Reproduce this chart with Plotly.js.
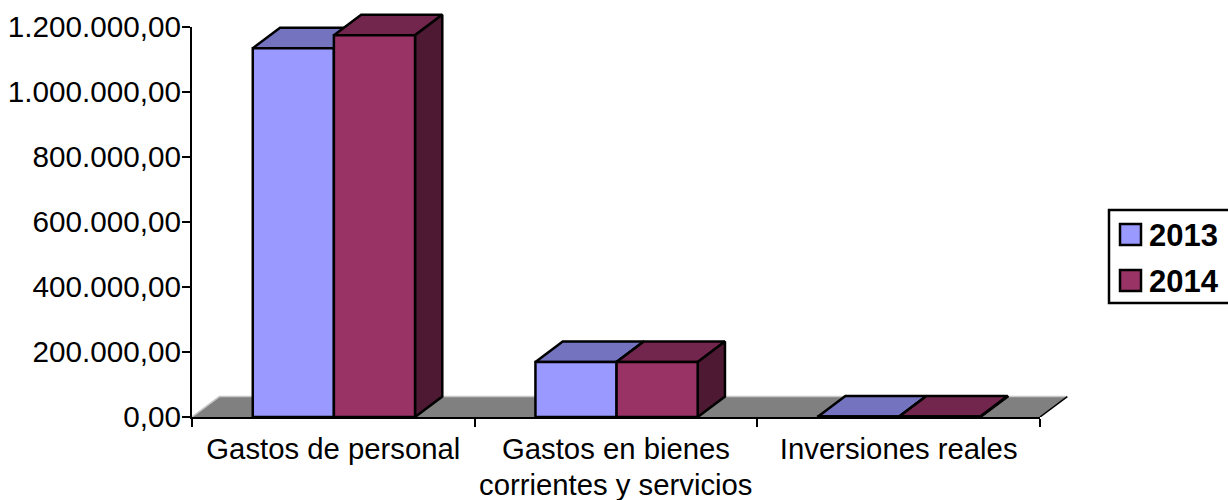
<!DOCTYPE html>
<html>
<head>
<meta charset="utf-8">
<script src="https://cdn.plot.ly/plotly-3.0.1.min.js"></script>
<style>html,body{margin:0;padding:0;background:#fff}#c{width:1228px;height:500px}</style>
</head>
<body>
<div id="c"></div>
<script>
const categories = ["Gastos de personal", "Gastos en bienes", "Inversiones reales"];
const categorySecondLines = ["", "corrientes y servicios", ""];
const seriesNames = ["2013", "2014"];
const values2013 = [1135000, 169000, 1500];
const values2014 = [1175000, 169000, 1500];
const yTickValues = [0, 200000, 400000, 600000, 800000, 1000000, 1200000];
const yTickLabels = ["0,00", "200.000,00", "400.000,00", "600.000,00", "800.000,00", "1.000.000,00", "1.200.000,00"];

const frontColors = ["#9999FF", "#993366"];
const topColors = ["#7373BF", "#73264D"];
const sideColors = ["#4D4D80", "#4D1933"];

const W = 1228, H = 500;
// visible axes box
const L = 192, R = 1040, T = 27, B = 417;
// larger drawing box that also holds the receding faces
const OR = 1100, OT = 5;
const fontFam = '"Liberation Sans", Arial, sans-serif';
const barW = 0.287, barShift = 0.002, edgeW = 2.5;
const depthX = 0.0965, depthY = 63000;
const xRange = [-0.5, 2.5], yRange = [0, 1200000];
const outerX = [-0.5, -0.5 + 3 * (OR - L) / (R - L)];
const outerY = [0, 1200000 * (B - OT) / (B - T)];
const px = v => (v - L) / (OR - L);
const py = v => (B - v) / (B - OT);

function poly(xs, ys, fill, lineColor, lineW) {
  return {type: "scatter", mode: "lines", x: xs, y: ys, fill: "toself", fillcolor: fill,
    line: {color: lineColor, width: lineW, simplify: false}, hoverinfo: "skip",
    showlegend: false, xaxis: "x", yaxis: "y"};
}
function seg(xs, ys, color, w) {
  return {type: "scatter", mode: "lines", x: xs, y: ys, line: {color: color, width: w},
    hoverinfo: "skip", showlegend: false, xaxis: "x", yaxis: "y"};
}

const traces = [];
// floor
traces.push(poly([-0.5, -0.5 + depthX, 2.5 + depthX, 2.5, -0.5], [0, depthY, depthY, 0, 0], "#808080", "rgba(0,0,0,0)", 0));
traces.push(seg([-0.5, -0.5 + depthX, 2.5 + depthX], [0, depthY, depthY], "#C8C8C8", 1.5));
traces.push(seg([2.5 + depthX, 2.5], [depthY, 0], "#000000", 1.5));

// top and side faces, built from the values
[values2013, values2014].forEach((vals, s) => {
  vals.forEach((v, i) => {
    const x0 = i + barShift - barW + s * barW, x1 = x0 + barW;
    traces.push(poly([x0, x0 + depthX, x1 + depthX, x1, x0], [v, v + depthY, v + depthY, v, v], topColors[s], "#000", edgeW));
    traces.push(poly([x1, x1 + depthX, x1 + depthX, x1, x1], [0, depthY, v + depthY, v, 0], sideColors[s], "#000", edgeW));
  });
});

// front faces: real bars on an overlaid subplot with identical scales
[values2013, values2014].forEach((vals, s) => {
  traces.push({type: "bar", name: seriesNames[s], x: [0, 1, 2], y: vals, width: barW,
    offset: barShift - barW + s * barW, marker: {color: frontColors[s], line: {color: "#000", width: edgeW}},
    hoverinfo: "skip", showlegend: false, xaxis: "x2", yaxis: "y2"});
});
// the visible axes
traces.push({type: "scatter", mode: "lines", x: [], y: [], showlegend: false, hoverinfo: "skip", xaxis: "x3", yaxis: "y3"});

const axisFont = {family: fontFam, size: 29.3, color: "#000"};
const yAxisFont = {family: fontFam, size: 29.7, color: "#000"};
const shapes = [
  {type: "rect", xref: "paper", yref: "paper", x0: px(1109), x1: px(1240), y0: py(210), y1: py(303),
   line: {color: "#000", width: 2.5}, fillcolor: "#fff"},
  {type: "rect", xref: "paper", yref: "paper", x0: px(1120), x1: px(1141), y0: py(224), y1: py(245),
   line: {color: "#000", width: 2.5}, fillcolor: frontColors[0]},
  {type: "rect", xref: "paper", yref: "paper", x0: px(1120), x1: px(1141), y0: py(270), y1: py(291),
   line: {color: "#000", width: 2.5}, fillcolor: frontColors[1]}
];
const annotations = seriesNames.map((n, i) => ({
  text: "<b>" + n + "</b>", xref: "paper", yref: "paper", x: px(1147), y: py(235 + i * 46.5),
  xanchor: "left", yanchor: "middle", showarrow: false,
  font: {family: fontFam, size: 31, color: "#000"}
}));
categorySecondLines.forEach((t, i) => {
  if (t) annotations.push({text: t, xref: "x3", yref: "paper", x: i, y: py(484.5),
    xanchor: "center", yanchor: "middle", showarrow: false, font: axisFont});
});

const hidden = {visible: false, type: "linear", fixedrange: true};
const layout = {
  width: W, height: H, paper_bgcolor: "#fff", plot_bgcolor: "rgba(0,0,0,0)",
  margin: {l: L, r: W - OR, t: OT, b: H - B, pad: 0},
  showlegend: false, barmode: "overlay", shapes: shapes, annotations: annotations,
  xaxis: {...hidden, range: outerX, domain: [0, 1], anchor: "y"},
  yaxis: {...hidden, range: outerY, domain: [0, 1], anchor: "x"},
  xaxis2: {...hidden, overlaying: "x", range: outerX, anchor: "y2"},
  yaxis2: {...hidden, overlaying: "y", range: outerY, anchor: "x2"},
  xaxis3: {type: "linear", domain: [0, (R - L) / (OR - L)], anchor: "y3", range: xRange,
    tickmode: "array", tickvals: [0, 1, 2], ticktext: categories,
    ticks: "", ticklabelstandoff: 5, showline: true, linecolor: "#000", linewidth: 2, showgrid: false, zeroline: false,
    tickfont: axisFont, tickangle: 0, automargin: false,
    minor: {tickmode: "array", tickvals: [-0.5, 0.5, 1.5, 2.5], ticks: "outside", ticklen: 8, tickwidth: 2, tickcolor: "#000", showgrid: false}},
  yaxis3: {type: "linear", domain: [0, (B - T) / (B - OT)], anchor: "x3", range: yRange,
    tickmode: "array", tickvals: yTickValues, ticktext: yTickLabels, ticklabelstandoff: -5,
    ticks: "outside", ticklen: 8, tickwidth: 2, tickcolor: "#000", showline: true, linecolor: "#000", linewidth: 2,
    showgrid: false, zeroline: false, tickfont: yAxisFont, automargin: false}
};
Plotly.newPlot("c", traces, layout, {displayModeBar: false, staticPlot: true});
</script>
</body>
</html>
